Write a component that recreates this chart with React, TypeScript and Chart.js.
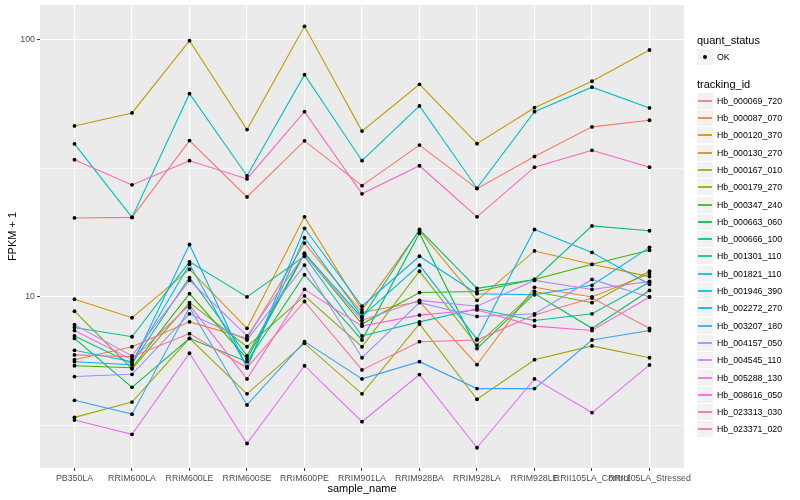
import { useEffect, useRef } from "react";
import { Chart, registerables } from "chart.js";

Chart.register(...registerables);

const categories = [
  "PB350LA", "RRIM600LA", "RRIM600LE", "RRIM600SE", "RRIM600PE", "RRIM901LA",
  "RRIM928BA", "RRIM928LA", "RRIM928LE", "RRII105LA_Control", "RRII105LA_Stressed",
];

const trackingIds = [
  "Hb_000069_720", "Hb_000087_070", "Hb_000120_370", "Hb_000130_270", "Hb_000167_010",
  "Hb_000179_270", "Hb_000347_240", "Hb_000663_060", "Hb_000666_100", "Hb_001301_110",
  "Hb_001821_110", "Hb_001946_390", "Hb_002272_270", "Hb_003207_180", "Hb_004157_050",
  "Hb_004545_110", "Hb_005288_130", "Hb_008616_050", "Hb_023313_030", "Hb_023371_020",
];

const seriesColors = [
  "#F8766D", "#EA8331", "#D89000", "#C09B00", "#A3A500",
  "#7CAE00", "#39B600", "#00BB4E", "#00BF7D", "#00C1A3",
  "#00BFC4", "#00BAE0", "#00B0F6", "#35A2FF", "#9590FF",
  "#C77CFF", "#E76BF3", "#FA62DB", "#FF62BC", "#FF6C91",
];

// FPKM + 1 per sample (order of categories)
const hb000069_720 = [20.3, 20.4, 40.6, 24.5, 40.5, 27.1, 39.0, 26.4, 35.2, 45.9, 48.7];
const hb000087_070 = [5.7, 6.4, 8.0, 6.9, 16.2, 8.7, 9.6, 5.45, 10.9, 10.0, 12.3];
const hb000120_370 = [9.8, 8.3, 12.8, 7.55, 20.5, 8.9, 18.1, 9.7, 15.1, 13.4, 12.0];
const hb000130_270 = [46.3, 52.0, 99.4, 44.8, 113, 44.2, 67.2, 39.5, 54.5, 69.1, 91.4];
const hb000167_010 = [3.4, 3.9, 6.9, 4.2, 6.6, 4.2, 7.85, 4.0, 5.7, 6.45, 5.8];
const hb000179_270 = [8.8, 5.25, 9.5, 6.4, 10.1, 6.4, 12.6, 6.5, 10.5, 9.5, 12.6];
const hb000347_240 = [5.4, 5.3, 10.3, 5.75, 14.7, 7.85, 10.4, 10.5, 11.7, 13.4, 15.2];
const hb000663_060 = [6.9, 4.45, 6.9, 5.6, 12.2, 6.8, 17.7, 6.3, 10.3, 7.55, 10.6];
const hb000666_100 = [7.05, 5.5, 11.9, 5.9, 14.8, 8.3, 18.3, 10.8, 11.7, 18.9, 18.1];
const hb001301_110 = [7.6, 7.0, 13.7, 10.0, 14.4, 7.05, 8.0, 9.0, 8.1, 8.6, 11.4];
const hb001821_110 = [39.4, 20.4, 61.8, 29.6, 73.3, 33.9, 55.4, 26.5, 52.6, 65.5, 54.4];
const hb001946_390 = [6.2, 5.6, 13.4, 5.35, 17.0, 8.4, 13.3, 6.85, 18.3, 14.9, 11.2];
const hb002272_270 = [5.6, 5.45, 16.0, 5.3, 18.5, 9.2, 14.4, 10.3, 10.2, 11.1, 15.6];
const hb003207_180 = [3.96, 3.5, 9.1, 3.8, 6.7, 4.8, 5.6, 4.4, 4.4, 6.8, 7.4];
const hb004157_050 = [4.9, 5.0, 8.6, 6.8, 13.3, 5.8, 9.5, 8.4, 8.6, 11.7, 10.0];
const hb004545_110 = [7.8, 5.9, 11.6, 7.05, 14.6, 8.1, 9.7, 9.2, 11.6, 10.7, 11.5];
const hb005288_130 = [3.32, 2.92, 6.04, 2.69, 5.4, 3.27, 4.99, 2.59, 4.8, 3.55, 5.44];
const hb008616_050 = [7.4, 5.7, 9.3, 4.8, 10.7, 7.7, 8.5, 8.9, 7.7, 7.4, 10.0];
const hb023313_030 = [34.2, 27.3, 33.9, 28.8, 52.6, 25.2, 32.4, 20.5, 32.0, 37.2, 32.0];
const hb023371_020 = [5.95, 5.85, 7.2, 5.3, 9.6, 5.2, 6.7, 6.8, 8.5, 9.9, 7.55];

const seriesValues = [
  hb000069_720, hb000087_070, hb000120_370, hb000130_270, hb000167_010,
  hb000179_270, hb000347_240, hb000663_060, hb000666_100, hb001301_110,
  hb001821_110, hb001946_390, hb002272_270, hb003207_180, hb004157_050,
  hb004545_110, hb005288_130, hb008616_050, hb023313_030, hb023371_020,
];

const yTickValues = [3.162, 10, 31.62, 100];
const yTickLabels = ["", "10", "", "100"];
const yMin = 2.16;
const yMax = 136.8;

const FONT = "'Liberation Sans', Arial, Helvetica, sans-serif";

const panelBg = {
  id: "panelBg",
  beforeDraw(chart: any) {
    const { ctx, chartArea } = chart;
    if (!chartArea) return;
    ctx.save();
    ctx.fillStyle = "#EBEBEB";
    ctx.fillRect(chartArea.left, chartArea.top, chartArea.right - chartArea.left, chartArea.bottom - chartArea.top);
    ctx.restore();
  },
};

function isMajorY(v: number) {
  const i = yTickValues.findIndex((t) => Math.abs(t - v) < 1e-6);
  return i >= 0 && yTickLabels[i] !== "";
}

function Legend() {
  const baseText: any = { position: "absolute", fontFamily: FONT, whiteSpace: "nowrap" };
  const itemTop0 = 100.7;
  const step = 17.3;
  return (
    <>
      <div style={{ ...baseText, left: 697, top: 33, fontSize: 11, lineHeight: "14px", color: "#000" }}>quant_status</div>
      <div style={{ position: "absolute", left: 697, top: 49, width: 16, height: 16, background: "#F2F2F2" }}>
        <div style={{ position: "absolute", left: 6, top: 6, width: 4, height: 4, borderRadius: 2, background: "#000" }} />
      </div>
      <div style={{ ...baseText, left: 717, top: 51, fontSize: 8.8, lineHeight: "12px", color: "#000" }}>OK</div>
      <div style={{ ...baseText, left: 697, top: 77, fontSize: 11, lineHeight: "14px", color: "#000" }}>tracking_id</div>
      {trackingIds.map((id, i) => {
        const cy = Math.round(itemTop0 + step * i);
        return (
          <div key={id}>
            <div style={{ position: "absolute", left: 697, top: cy - 8, width: 16, height: 16, background: "#F2F2F2" }}>
              <div style={{ position: "absolute", left: 1, top: 7, width: 14, height: 2, background: seriesColors[i], opacity: 0.85 }} />
            </div>
            <div style={{ ...baseText, left: 717, top: cy - 6, fontSize: 8.8, lineHeight: "12px", color: "#000" }}>{id}</div>
          </div>
        );
      })}
    </>
  );
}

export default function App() {
  const canvasRef = useRef<HTMLCanvasElement | null>(null);

  useEffect(() => {
    const canvas = canvasRef.current;
    if (!canvas) return;

    const n = seriesValues.length;
    const lineSets = seriesValues.map((vals, s) => ({
      label: trackingIds[s],
      data: vals.map((v, i) => ({ x: i, y: v })),
      borderColor: seriesColors[s],
      backgroundColor: seriesColors[s],
      borderWidth: 1.07,
      pointRadius: 0,
      tension: 0,
      fill: false,
      order: n - s + 1,
    }));
    const pointSet = {
      label: "OK",
      data: seriesValues.flatMap((vals) => vals.map((v, i) => ({ x: i, y: v }))),
      showLine: false,
      pointRadius: 1.9,
      pointBackgroundColor: "#000",
      pointBorderWidth: 0,
      borderColor: "#000",
      backgroundColor: "#000",
      order: 0,
    };

    const chart = new Chart(canvas, {
      type: "line",
      data: { datasets: [...lineSets, pointSet] as any },
      plugins: [panelBg],
      options: {
        animation: false,
        responsive: false,
        maintainAspectRatio: false,
        devicePixelRatio: 1,
        layout: { padding: { top: 5, right: 116, left: 0, bottom: 0 } },
        plugins: { legend: { display: false }, tooltip: { enabled: false } },
        scales: {
          x: {
            type: "linear",
            min: -0.6,
            max: categories.length - 1 + 0.6,
            afterBuildTicks(scale: any) {
              scale.ticks = categories.map((_, i) => ({ value: i }));
            },
            afterFit(scale: any) {
              scale.height = 32;
              scale.paddingLeft = 0;
              scale.paddingRight = 0;
            },
            border: { display: false },
            grid: { color: "#FFFFFF", lineWidth: 1.1, tickColor: "#333333", tickLength: 3, tickWidth: 1 },
            ticks: {
              autoSkip: false,
              maxRotation: 0,
              minRotation: 0,
              padding: 2,
              color: "#4D4D4D",
              font: { family: FONT, size: 8.8 },
              callback: (v: any) => categories[Number(v)] ?? "",
            },
            title: {
              display: true,
              text: "sample_name",
              color: "#000",
              font: { family: FONT, size: 11 },
              padding: { top: 1, bottom: 4 },
            },
          },
          y: {
            type: "logarithmic",
            min: yMin,
            max: yMax,
            afterBuildTicks(scale: any) {
              scale.ticks = yTickValues.map((v) => ({ value: v }));
            },
            afterFit(scale: any) {
              scale.width = 40;
              scale.paddingTop = 0;
              scale.paddingBottom = 0;
            },
            border: { display: false },
            grid: {
              color: "#FFFFFF",
              lineWidth: (c: any) => (c.tick && isMajorY(c.tick.value) ? 1.1 : 0.55),
              tickColor: (c: any) => (c.tick && isMajorY(c.tick.value) ? "#333333" : "rgba(0,0,0,0)"),
              tickLength: 3,
              tickWidth: 1,
            },
            ticks: {
              padding: 2,
              color: "#4D4D4D",
              font: { family: FONT, size: 8.8 },
              callback: (v: any) => {
                const i = yTickValues.findIndex((t) => Math.abs(t - Number(v)) < 1e-6);
                return i >= 0 ? yTickLabels[i] : "";
              },
            },
            title: {
              display: true,
              text: "FPKM + 1",
              color: "#000",
              font: { family: FONT, size: 11 },
              padding: { top: 6, bottom: 0 },
            },
          },
        },
      } as any,
    });

    return () => chart.destroy();
  }, []);

  return (
    <div style={{ position: "fixed", left: 0, top: 0, width: 800, height: 500, background: "#FFFFFF" }}>
      <canvas ref={canvasRef} width={800} height={500} style={{ position: "absolute", left: 0, top: 0, width: 800, height: 500 }} />
      <Legend />
    </div>
  );
}
